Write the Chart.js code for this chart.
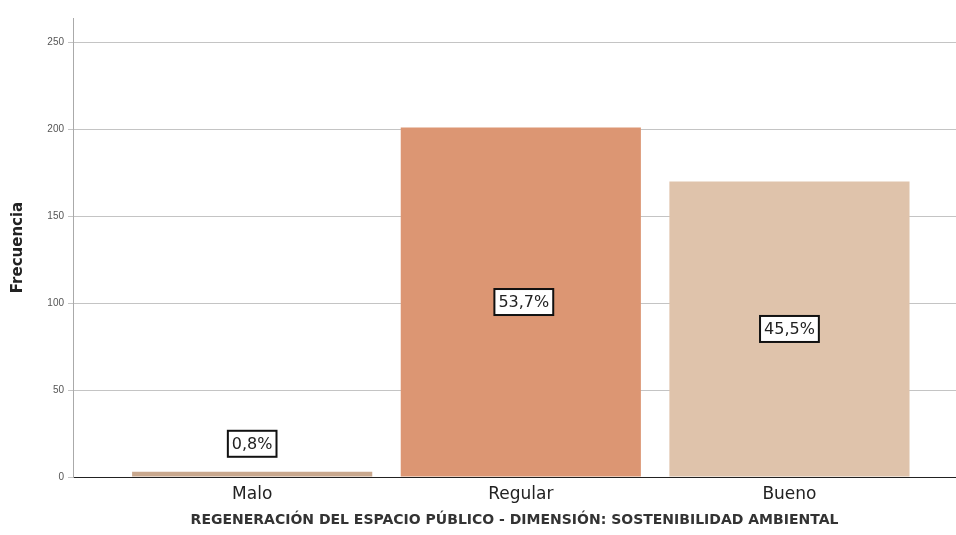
<!DOCTYPE html>
<html><head><meta charset="utf-8">
<script src="https://cdn.jsdelivr.net/npm/chart.js@4/dist/chart.umd.min.js"></script>
<style>html,body{margin:0;padding:0;background:#fff}#w{width:956px;height:535px}</style>
</head><body><div id="w"><canvas id="c"></canvas></div>
<script>
const categories = ["Malo", "Regular", "Bueno"];
const frequencies = [3, 201, 170];
const percentLabels = ["0,8%", "53,7%", "45,5%"];
const yTicks = [0, 50, 100, 150, 200, 250];
const barColors = ["#C9A88E", "#DC9673", "#DFC3AB"];
const yTitle = "Frecuencia";
const xTitle = "REGENERACIÓN DEL ESPACIO PÚBLICO - DIMENSIÓN: SOSTENIBILIDAD AMBIENTAL";

const points = categories.map((c, i) => ({ x: i, y: frequencies[i] }));

const labelPlugin = {
  id: 'boxLabels',
  afterDatasetsDraw(chart) {
    const ctx = chart.ctx;
    const meta = chart.getDatasetMeta(0);
    ctx.save();
    ctx.font = '16px "DejaVu Sans", sans-serif';
    ctx.textAlign = 'center';
    ctx.textBaseline = 'middle';
    meta.data.forEach((bar, i) => {
      const text = percentLabels[i];
      const w = ctx.measureText(text).width + 8;
      const h = 26;
      let cy = (bar.y + bar.base) / 2;
      if (bar.base - bar.y < 40) cy = bar.y - 28;
      const cx = bar.x + (i === 1 ? 3 : 0);
      ctx.fillStyle = '#fff';
      ctx.fillRect(cx - w / 2, cy - h / 2, w, h);
      ctx.strokeStyle = '#111';
      ctx.lineWidth = 2;
      ctx.strokeRect(cx - w / 2, cy - h / 2, w, h);
      ctx.fillStyle = '#222';
      ctx.fillText(text, cx, cy + 1);
    });
    ctx.restore();
  }
};

new Chart(document.getElementById('c'), {
  type: 'bar',
  data: {
    datasets: [{
      data: points,
      backgroundColor: barColors,
      borderColor: barColors,
      borderWidth: 0,
      barPercentage: 0.894,
      categoryPercentage: 1.0
    }]
  },
  options: {
    responsive: true,
    maintainAspectRatio: false,
    animation: false,
    layout: { padding: { top: 18, right: 0, left: 0, bottom: 6 } },
    plugins: { legend: { display: false }, tooltip: { enabled: false } },
    scales: {
      x: {
        type: 'linear',
        offset: false,
        min: -0.667,
        max: 2.62,
        afterBuildTicks(axis) { axis.ticks = categories.map((c, i) => ({ value: i })); },
        afterFit(axis) { axis.height = 52; },
        grid: { display: false, drawTicks: false },
        border: { display: true, color: '#222', width: 1 },
        ticks: {
          callback: (v) => categories[v],
          font: { size: 17, family: '"DejaVu Sans", sans-serif' },
          color: '#222',
          padding: 7,
          maxRotation: 0,
          autoSkip: false
        },
        title: {
          display: true,
          text: xTitle,
          font: { size: 14, weight: 'bold', family: '"DejaVu Sans", sans-serif' },
          color: '#333',
          padding: { top: 2, bottom: 0 }
        }
      },
      y: {
        min: 0,
        max: 264,
        afterBuildTicks(axis) { axis.ticks = yTicks.map(v => ({ value: v })); },
        afterFit(axis) { axis.width = 73; },
        grid: { color: '#c4c4c4', lineWidth: 1, tickLength: 5, tickColor: '#c4c4c4' },
        border: { display: true, color: '#aaa', width: 1 },
        ticks: {
          font: { size: 10, family: '"Liberation Sans", Arial, sans-serif' },
          color: '#555',
          padding: 4
        },
        title: {
          display: true,
          text: yTitle,
          font: { size: 15, weight: 'bold', family: '"DejaVu Sans", sans-serif' },
          color: '#222',
          padding: { top: 9, bottom: 0 }
        }
      }
    }
  },
  plugins: [labelPlugin]
});
</script>
</body></html>
